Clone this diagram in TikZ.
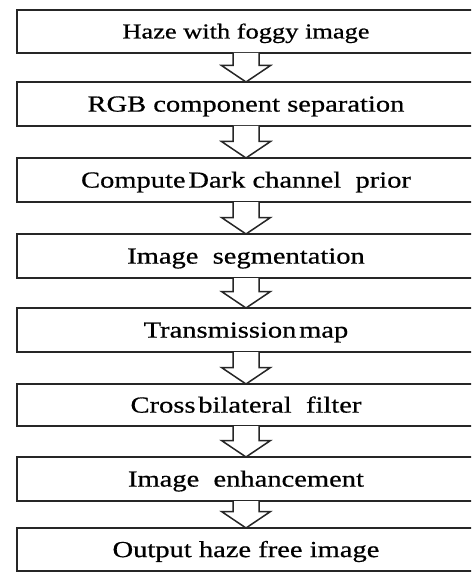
\documentclass[tikz,border=0pt]{standalone}
\usepackage{fontspec}
\setmainfont[FakeStretch=1.24,FakeBold=0.6]{Liberation Serif}
\usetikzlibrary{calc}

\tikzset{
  stage/.style={draw=black!85, line width=1.8pt, fill=white, rectangle,
    minimum width=458pt, inner sep=0pt, outer sep=0pt,
    font=\fontsize{23}{26}\selectfont, text height=15.2pt, text depth=0pt},
  blockarrow/.style={draw=black!85, line width=1.5pt, fill=white, line join=miter},
}

% narrow word gap used in a few labels
\newcommand\tightgap{\hspace{0.12em}}

% hollow block arrow from the bottom of box #1 to the top of box #2
\newcommand\flowarrow[2]{%
  \draw[blockarrow]
    ([xshift=-13pt]#1.south) -- ($(#2.north)+(-13pt,16.5pt)$)
    -- ($(#2.north)+(-24.5pt,16.5pt)$) -- (#2.north)
    -- ($(#2.north)+(24.5pt,16.5pt)$) -- ($(#2.north)+(13pt,16.5pt)$)
    -- ([xshift=13pt]#1.south);}

\begin{document}
\begin{tikzpicture}[x=1pt,y=-1pt]
  \clip (0,0) rectangle (471,572);
  \fill[white] (0,0) rectangle (471,572);

  \node[stage, minimum height=43pt, font=\fontsize{21.3}{24}\selectfont, text height=14pt] (b1) at (246,31.5) {Haze with foggy image};
  \node[stage, minimum height=44pt] (b2) at (246,104) {RGB component separation};
  \node[stage, minimum height=44pt] (b3) at (246,180) {Compute\tightgap Dark channel\ \ prior};
  \node[stage, minimum height=44pt] (b4) at (246,256) {Image\ \ segmentation};
  \node[stage, minimum height=44pt] (b5) at (246,330) {Transmission\tightgap map};
  \node[stage, minimum height=42pt] (b6) at (246,405) {Cross\tightgap bilateral\ \ filter};
  \node[stage, minimum height=44pt] (b7) at (246,479) {Image\ \ enhancement};
  \node[stage, minimum height=43pt] (b8) at (246,549.5) {Output haze free image};

  \flowarrow{b1}{b2}
  \flowarrow{b2}{b3}
  \flowarrow{b3}{b4}
  \flowarrow{b4}{b5}
  \flowarrow{b5}{b6}
  \flowarrow{b6}{b7}
  \flowarrow{b7}{b8}
\end{tikzpicture}
\end{document}
